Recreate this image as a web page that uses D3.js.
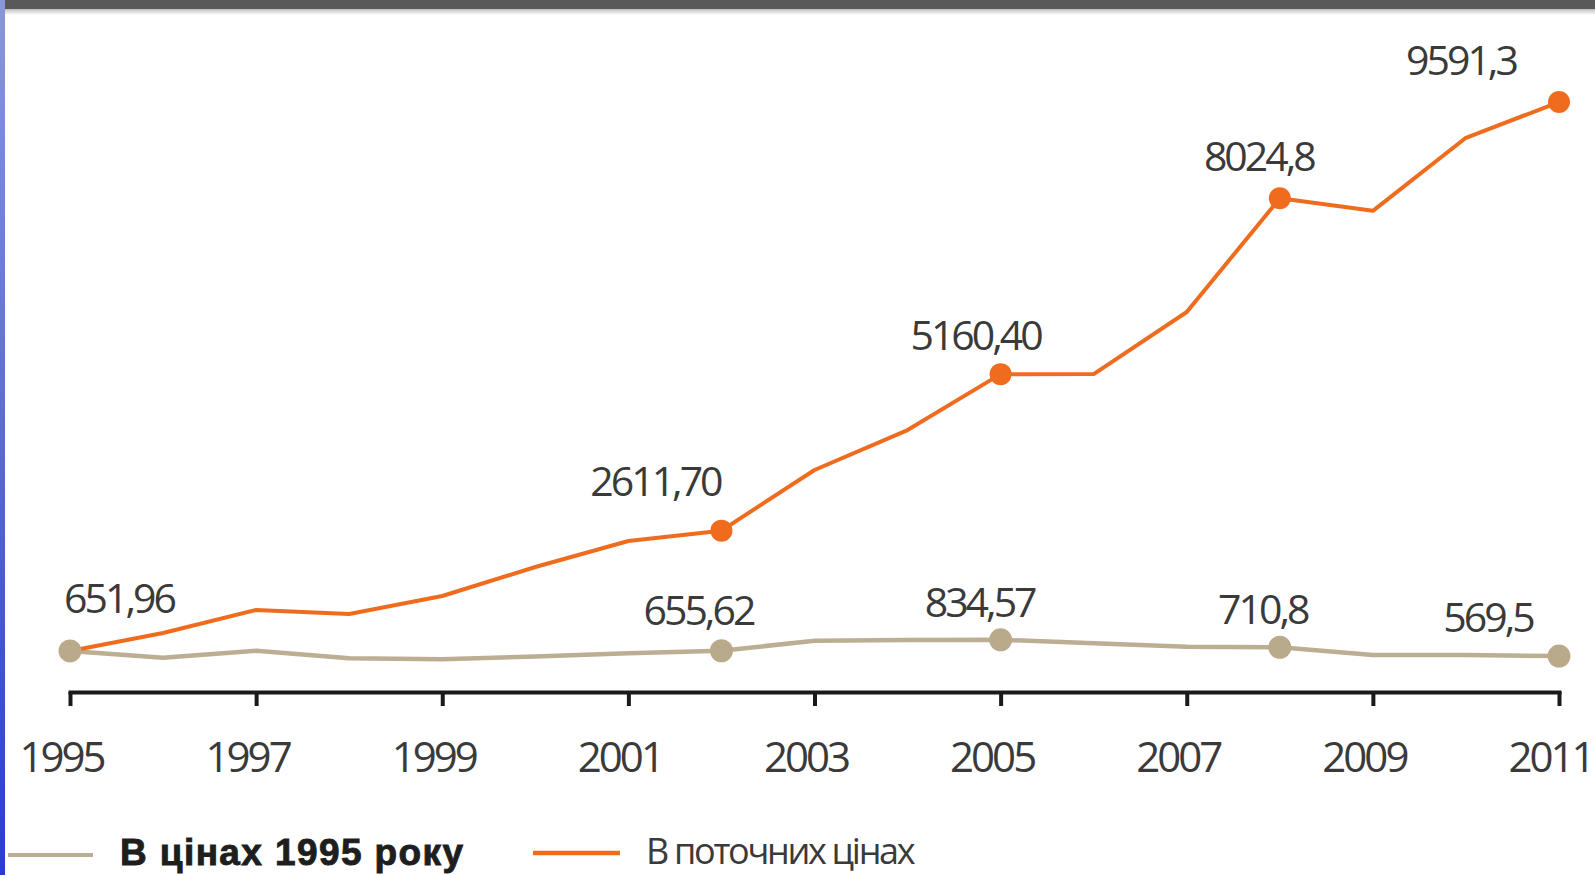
<!DOCTYPE html>
<html>
<head>
<meta charset="utf-8">
<script src="https://cdn.jsdelivr.net/npm/d3@7/dist/d3.min.js"></script>
<style>
  html, body { margin: 0; padding: 0; background: #fff; }
  svg { display: block; }
</style>
</head>
<body>
<svg id="chart" width="1595" height="875"></svg>
<script>
// ---- data ----
const years = [1995, 1996, 1997, 1998, 1999, 2000, 2001, 2002, 2003, 2004, 2005, 2006, 2007, 2008, 2009, 2010, 2011];
const currentPrices = [651.96, 944, 1319, 1254, 1547, 2019, 2443, 2611.70, 3599, 4250, 5160.40, 5162, 6172, 8024.8, 7820, 9010, 9591.3];
const constPrices = [651.96, 540, 656, 534, 518, 560, 614, 655.62, 819, 830, 834.57, 777, 721, 710.8, 586, 586, 569.5];
const labeledYears = [1995, 2002, 2005, 2008, 2011];
const currentLabels = ["", "2611,70", "5160,40", "8024,8", "9591,3"];
const constLabels = ["651,96", "655,62", "834,57", "710,8", "569,5"];
const tickYears = [1995, 1997, 1999, 2001, 2003, 2005, 2007, 2009, 2011];
const legendNames = ["В цінах 1995 року", "В поточних цінах"];

// ---- layout (label offsets relative to markers) ----
const currentLabelOffsets = [[0, 0], [-66, -35], [-25, -24], [-21, -27], [-98, -27]];
const constLabelOffsets = [[49, -38], [-23, -26], [-21, -23], [-17, -23], [-71, -24]];

const ORANGE = "#ef6c1f";
const TAN = "#bcae92";
const TAN_DOT = "#b9aa8c";
const TEXT = "#3a3a3a";

const svg = d3.select("#chart");

// background decorations
const defs = svg.append("defs");
const g1 = defs.append("linearGradient").attr("id", "blue").attr("x1", 0).attr("y1", 0).attr("x2", 0).attr("y2", 1);
g1.append("stop").attr("offset", "0%").attr("stop-color", "#8a98d8");
g1.append("stop").attr("offset", "50%").attr("stop-color", "#5a6ccc");
g1.append("stop").attr("offset", "100%").attr("stop-color", "#2a3ad6");
const g2 = defs.append("linearGradient").attr("id", "shadow").attr("x1", 0).attr("y1", 0).attr("x2", 0).attr("y2", 1);
g2.append("stop").attr("offset", "0%").attr("stop-color", "#bdbdbd");
g2.append("stop").attr("offset", "100%").attr("stop-color", "#ffffff");

svg.append("rect").attr("x", 0).attr("y", 9).attr("width", 1595).attr("height", 6).attr("fill", "url(#shadow)");
svg.append("rect").attr("x", 0).attr("y", 0).attr("width", 1595).attr("height", 9).attr("fill", "#595959");
svg.append("rect").attr("x", 0).attr("y", 0).attr("width", 5).attr("height", 875).attr("fill", "url(#blue)");

// ---- scales ----
const x = d3.scaleLinear().domain([1995, 2011]).range([70, 1559]);
const y = d3.scaleLinear().domain([0, 10000]).range([691, 77]);

// ---- axis ----
const axis = d3.axisBottom(x)
  .tickValues(tickYears)
  .tickFormat(d => String(d))
  .tickSize(14)
  .tickSizeOuter(0);

const axG = svg.append("g").attr("transform", `translate(0,${y(0) + 1})`).call(axis);
axG.select(".domain").attr("stroke", "#1a1a1a").attr("stroke-width", 4).attr("stroke-linecap", "square");
axG.selectAll(".tick line").attr("stroke", "#1a1a1a").attr("stroke-width", 4);
axG.selectAll(".tick text")
  .attr("y", 80).attr("dy", 0).attr("dx", -9)
  .attr("fill", TEXT)
  .style("font-family", "'Open Sans', 'Noto Sans', sans-serif")
  .style("font-size", "42px")
  .style("letter-spacing", "-3px");

// ---- lines ----
const line = d3.line().x((d, i) => x(years[i])).y(d => y(d));

svg.append("path").datum(constPrices)
  .attr("d", line).attr("fill", "none")
  .attr("stroke", TAN).attr("stroke-width", 4.5).attr("stroke-linejoin", "round");

svg.append("path").datum(currentPrices)
  .attr("d", line).attr("fill", "none")
  .attr("stroke", ORANGE).attr("stroke-width", 4).attr("stroke-linejoin", "round");

// markers
const idx = labeledYears.map(yr => years.indexOf(yr));

svg.selectAll(".dotC").data(idx.slice(1)).enter().append("circle")
  .attr("cx", i => x(years[i])).attr("cy", i => y(currentPrices[i]))
  .attr("r", 11).attr("fill", ORANGE);

svg.selectAll(".dotK").data(idx).enter().append("circle")
  .attr("cx", i => x(years[i])).attr("cy", i => y(constPrices[i]))
  .attr("r", 11.5).attr("fill", TAN_DOT);

// value labels
function labelStyle(sel) {
  sel.attr("fill", TEXT)
    .attr("text-anchor", "middle")
    .style("font-family", "'Open Sans', 'Noto Sans', sans-serif")
    .style("font-size", "41px")
    .style("letter-spacing", "-3px");
}

idx.forEach((i, k) => {
  if (currentLabels[k]) {
    svg.append("text")
      .attr("x", x(years[i]) + currentLabelOffsets[k][0])
      .attr("y", y(currentPrices[i]) + currentLabelOffsets[k][1])
      .text(currentLabels[k]).call(labelStyle);
  }
  svg.append("text")
    .attr("x", x(years[i]) + constLabelOffsets[k][0])
    .attr("y", y(constPrices[i]) + constLabelOffsets[k][1])
    .text(constLabels[k]).call(labelStyle);
});

// ---- legend ----
const lg = svg.append("g");
lg.append("line").attr("x1", 8).attr("x2", 93).attr("y1", 855).attr("y2", 855)
  .attr("stroke", TAN).attr("stroke-width", 4);
lg.append("text").attr("x", 120).attr("y", 865).text(legendNames[0])
  .attr("fill", "#1e1e1e")
  .attr("stroke", "#1e1e1e").attr("stroke-width", 0.9)
  .style("font-family", "'Liberation Sans', Arial, sans-serif")
  .style("font-weight", "bold")
  .style("font-size", "37px")
  .style("letter-spacing", "1.4px");

lg.append("line").attr("x1", 533).attr("x2", 620).attr("y1", 853).attr("y2", 853)
  .attr("stroke", ORANGE).attr("stroke-width", 4.5);
lg.append("text").attr("x", 646).attr("y", 864).text(legendNames[1])
  .attr("fill", TEXT)
  .style("font-family", "'Open Sans', 'Noto Sans', sans-serif")
  .style("font-size", "36px")
  .style("letter-spacing", "-2.3px");
</script>
</body>
</html>
